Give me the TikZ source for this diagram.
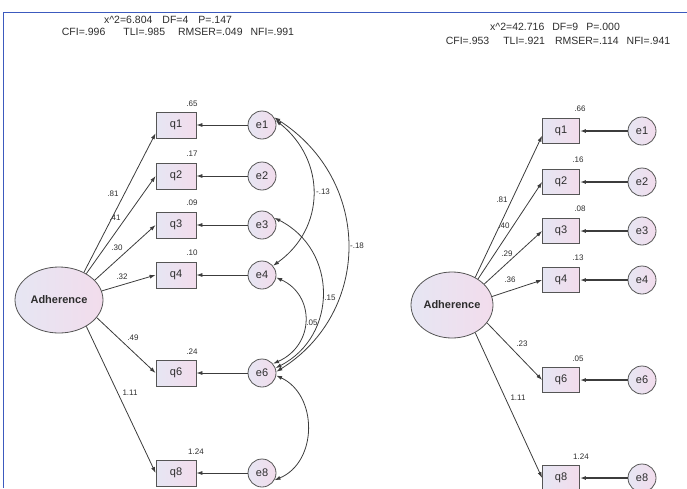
\documentclass[tikz,border=0pt]{standalone}
\usepackage{fontspec}
\setmainfont{Liberation Sans}
\usetikzlibrary{arrows.meta,shapes.geometric}
\definecolor{frameblue}{RGB}{60,90,190}
\definecolor{ink}{RGB}{60,60,60}
\definecolor{txt}{RGB}{45,45,45}
\definecolor{fillL}{RGB}{230,230,243}
\definecolor{fillR}{RGB}{242,220,236}
\definecolor{edge}{RGB}{85,85,85}
\begin{document}
\begin{tikzpicture}[x=1pt,y=-1pt,
  obs/.style={draw=edge,line width=0.8pt,left color=fillL,right color=fillR,minimum width=40pt,minimum height=26pt,inner sep=0pt,font=\fontsize{11}{12}\selectfont,text=txt},
  obsR/.style={obs,minimum width=37pt,minimum height=25pt},
  err/.style={circle,draw=edge,line width=0.8pt,left color=fillL,right color=fillR,minimum size=28pt,inner sep=0pt,font=\fontsize{11}{12}\selectfont,text=txt},
  lat/.style={ellipse,draw=edge,line width=0.8pt,left color=fillL,right color=fillR,minimum width=88pt,minimum height=66pt,inner sep=0pt,font=\bfseries\fontsize{11}{12}\selectfont,text=txt},
  lbl/.style={font=\fontsize{8}{9}\selectfont,text=txt,inner sep=0pt},
  hdr/.style={font=\fontsize{10.5}{12}\selectfont,text=txt,inner sep=0pt},
  pth/.style={draw=ink,line width=0.8pt,-{Latex[length=6pt,width=4pt]}},
  epth/.style={pth},
  epthR/.style={pth,line width=1.3pt},
  cov/.style={draw=ink,line width=0.8pt,{Latex[length=6pt,width=4pt]}-{Latex[length=6pt,width=4pt]}},
]
\useasboundingbox (0,0) rectangle (687,488);
\draw[frameblue,line width=1.5pt] (687,12.5) -- (3.5,12.5) -- (3.5,488);

% headers
\node[hdr] (h1) at (168,20) {x\textasciicircum 2=6.804\hspace{10pt}DF=4\hspace{10pt}P=.147};
\node[hdr] (h2) at (178,32) {CFI=.996\hspace{18pt}TLI=.985\hspace{13pt}RMSER=.049\hspace{8pt}NFI=.991};
\node[hdr] (h3) at (555,27) {x\textasciicircum 2=42.716\hspace{8pt}DF=9\hspace{8pt}P=.000};
\node[hdr] (h4) at (558,41) {CFI=.953\hspace{14pt}TLI=.921\hspace{10pt}RMSER=.114\hspace{8pt}NFI=.941};

% ---------- left model ----------
\node[lat] (adh) at (59,300) {Adherence};
\node[obs] (q1) at (176,125) {q1};
\node[obs] (q2) at (176,176) {q2};
\node[obs] (q3) at (176,225) {q3};
\node[obs] (q4) at (176,275) {q4};
\node[obs] (q6) at (176,373) {q6};
\node[obs] (q8) at (176,473) {q8};
\node[err] (e1) at (262,125) {e1};
\node[err] (e2) at (262,176) {e2};
\node[err] (e3) at (262,225) {e3};
\node[err] (e4) at (262,275) {e4};
\node[err] (e6) at (262,373) {e6};
\node[err] (e8) at (262,473) {e8};

\draw[pth] (adh.48) -- (q1.202);
\draw[pth] (adh.44) -- (q2.west);
\draw[pth] (adh.29) -- (q3.west);
\draw[pth] (adh.12) -- (q4.west);
\draw[pth] (adh.-25) -- (q6.west);
\draw[pth] (adh.-44) -- (q8.west);
\foreach \i in {1,2,3,4,6,8} \draw[epth] (e\i) -- (q\i);

\node[lbl] (r2q1) at (192,104) {.65};
\node[lbl] (r2q2) at (192,154) {.17};
\node[lbl] (r2q3) at (192,203) {.09};
\node[lbl] (r2q4) at (192,253) {.10};
\node[lbl] (r2q6) at (192,352) {.24};
\node[lbl] (r2q8) at (196,452) {1.24};
\node[lbl] (l1) at (113,194) {.81};
\node[lbl] (l2) at (115,218) {.41};
\node[lbl] (l3) at (117,248) {.30};
\node[lbl] (l4) at (122,277) {.32};
\node[lbl] (l6) at (133,338) {.49};
\node[lbl] (l8) at (130,393) {1.11};

\draw[cov] (e1.20) .. controls (326,160) and (326,228) .. (e4.40);
\draw[cov] (e1.32) .. controls (372,180) and (372,312) .. (e6.5);
\draw[cov] (e3.30) .. controls (338,250) and (338,336) .. (e6.20);
\draw[cov] (e4.-10) .. controls (315,295) and (315,345) .. (e6.40);
\draw[cov] (e6.-10) .. controls (318,395) and (318,462) .. (e8.-30);
\node[lbl] (c14) at (323,192) {-.13};
\node[lbl] (c16) at (357,246) {-.18};
\node[lbl] (c36) at (330,298) {.15};
\node[lbl] (c46) at (312,323) {.05};

% ---------- right model ----------
\node[lat,minimum width=82pt] (adhR) at (452,305) {Adherence};
\node[obsR] (r1) at (561,131) {q1};
\node[obsR] (r2) at (561,182) {q2};
\node[obsR] (r3) at (561,231) {q3};
\node[obsR] (r4) at (561,280) {q4};
\node[obsR] (r6) at (561,380) {q6};
\node[obsR] (r8) at (561,478) {q8};
\node[err] (f1) at (642,131) {e1};
\node[err] (f2) at (642,182) {e2};
\node[err] (f3) at (642,231) {e3};
\node[err] (f4) at (642,280) {e4};
\node[err] (f6) at (642,380) {e6};
\node[err] (f8) at (642,478) {e8};

\draw[pth] (adhR.50) -- (r1.194);
\draw[pth] (adhR.45) -- (r2.west);
\draw[pth] (adhR.33) -- (r3.west);
\draw[pth] (adhR.12) -- (r4.west);
\draw[pth] (adhR.-27) -- (r6.west);
\draw[pth] (adhR.-50) -- (r8.west);
\foreach \i in {1,2,3,4,6,8} \draw[epthR] (f\i) -- (r\i);

\node[lbl] (s1) at (580,109) {.66};
\node[lbl] (s2) at (578,160) {.16};
\node[lbl] (s3) at (580,209) {.08};
\node[lbl] (s4) at (578,258) {.13};
\node[lbl] (s6) at (578,359) {.05};
\node[lbl] (s8) at (581,457) {1.24};
\node[lbl] (m1) at (502,200) {.81};
\node[lbl] (m2) at (504,226) {.40};
\node[lbl] (m3) at (507,254) {.29};
\node[lbl] (m4) at (510,280) {.36};
\node[lbl] (m6) at (522,344) {.23};
\node[lbl] (m8) at (518,398) {1.11};
\end{tikzpicture}
\end{document}
